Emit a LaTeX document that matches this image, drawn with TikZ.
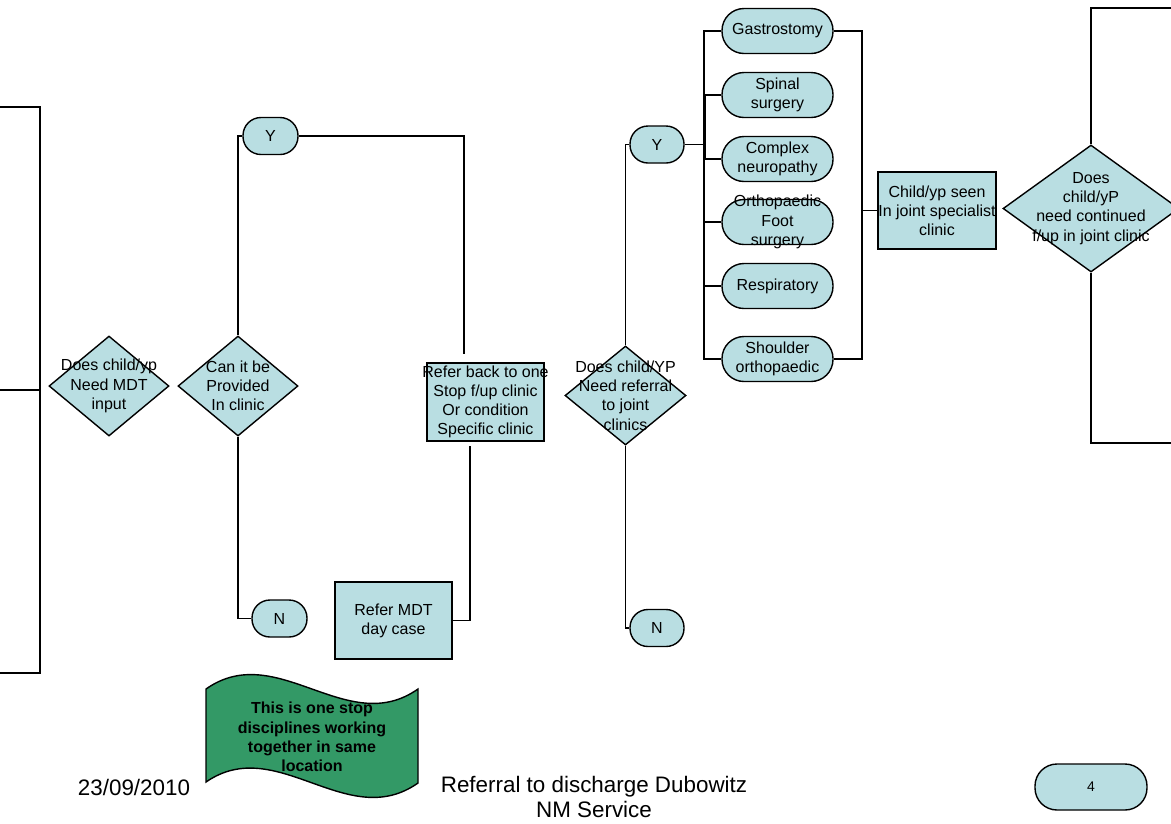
\documentclass[tikz,border=0pt]{standalone}
\usepackage{fontspec}
\setmainfont{Liberation Sans}
\usetikzlibrary{shapes.geometric}
\definecolor{boxfill}{RGB}{185,222,226}
\definecolor{wavefill}{RGB}{51,153,102}

\begin{document}
\begin{tikzpicture}[x=1pt,y=-1pt,
  txt/.style={font=\fontsize{16}{19.2}\selectfont, align=center, inner sep=0pt},
  tx/.style={label={[txt]center:{#1}}},
  shp/.style={draw=black, fill=boxfill, inner sep=0pt, line width=1.4pt},
  proc/.style={shp, rectangle, minimum width=117pt, minimum height=77pt},
  term/.style={shp, rectangle, rounded corners=18pt, minimum width=55pt, minimum height=37pt},
  spec/.style={shp, rectangle, rounded corners=22pt, minimum width=111pt, minimum height=45pt},
  dec/.style={shp, diamond, minimum width=120pt, minimum height=100pt},
  link/.style={draw=black, line width=1.4pt},
  foot/.style={font=\fontsize{22.4}{25}\selectfont, align=center, inner sep=0pt}
]
\fill[white] (0,0) rectangle (1171,823);
\useasboundingbox (0,0) rectangle (1171,823);

% bracket on the left edge
\draw[link] (0,107) -- (40,107) -- (40,673) -- (0,673);
\draw[link] (0,390) -- (40,390);

% first decision stage
\node[dec, tx={Does child/yp\\Need MDT\\input}] (d1) at (109,386) {};
\node[dec, tx={Can it be\\Provided\\In clinic}] (d2) at (238,386) {};
\node[term, tx=Y] (y1) at (270.5,136) {};
\node[term, tx=N] (n1) at (279.5,618.5) {};
\node[proc, minimum height=78pt, tx={Refer back to one\\Stop f/up clinic\\Or condition\\Specific clinic}] (rb) at (485.5,402) {};
\node[proc, tx={Refer MDT\\day case}] (mdt) at (393.5,620.5) {};

% joint clinic referral
\node[dec, minimum width=121pt, minimum height=99pt, tx={Does child/YP\\Need referral\\to joint\\clinics}] (d3) at (625.5,395.5) {};
\node[term, minimum width=54pt, tx=Y] (y2) at (657,144.5) {};
\node[term, minimum width=54pt, tx=N] (n2) at (657,628) {};

% joint specialist clinics
\node[spec, tx={Gastrostomy}] (gas) at (777.5,31) {};
\node[spec, tx={Spinal\\surgery}] (spi) at (777.5,95) {};
\node[spec, tx={Complex\\neuropathy}] (cpx) at (777.5,159) {};
\node[spec, tx={Orthopaedic\\Foot\\surgery}] (ort) at (777.5,222) {};
\node[spec, tx={Respiratory}] (res) at (777.5,286) {};
\node[spec, tx={Shoulder\\orthopaedic}] (sho) at (777.5,359) {};

\node[proc, minimum width=118pt, tx={Child/yp seen\\In joint specialist\\clinic}] (seen) at (937,210.5) {};
\node[dec, minimum width=176pt, minimum height=127pt, tx={Does\\child/yP\\need continued\\f/up in joint clinic}] (d4) at (1091,208.5) {};

% connectors
\draw[link] (d2.north) |- (y1.west);
\draw[link] (d2.south) |- (n1.west);
\coordinate (rbin) at (464,354);
\draw[link] (y1.east) -| (rbin);
\coordinate (rbout) at (470,446);
\draw[link] (rbout) |- (mdt.east);
\draw[link] (d3.north) |- (y2.west);
\draw[link] (d3.south) |- (n2.west);

\coordinate (lbus) at (704,0);
\coordinate (rbus) at (862,0);
\draw[link] (y2.east) -- (lbus |- y2.east);
\draw[link] (gas.west) -- (lbus |- gas.west) -- (lbus |- sho.west) -- (sho.west);
\draw[link] (spi.west) -- ++(-16,0) |- (cpx.west);
\draw[link] (lbus |- ort.west) -- (ort.west);
\draw[link] (lbus |- res.west) -- (res.west);
\draw[link] (gas.east) -- (rbus |- gas.east) -- (rbus |- sho.east) -- (sho.east);
\draw[link] (rbus |- seen.west) -- (seen.west);

\coordinate (topout) at (1175,8);
\coordinate (botout) at (1175,443);
\draw[link] (d4.north) |- (topout);
\draw[link] (d4.south) |- (botout);

% wave banner
\draw[line width=1.4pt, fill=wavefill] (206,689) .. controls (277,639) and (347,739) .. (418,689)
  -- (418,783) .. controls (347,833) and (277,733) .. (206,782) -- cycle;
\node[txt, font=\bfseries\fontsize{16}{19.2}\selectfont] (banner) at (312,737)
  {This is one stop\\disciplines working\\together in same\\location};

% footer
\node[foot] (date) at (134,787) {23/09/2010};
\node[foot] (title) at (594,797) {Referral to discharge Dubowitz\\NM Service};
\node[shp, rectangle, rounded corners=22pt, minimum width=112pt, minimum height=46pt,
  label={[txt, font=\fontsize{14}{16}\selectfont]center:4}] (page) at (1091,787) {};
\end{tikzpicture}
\end{document}
